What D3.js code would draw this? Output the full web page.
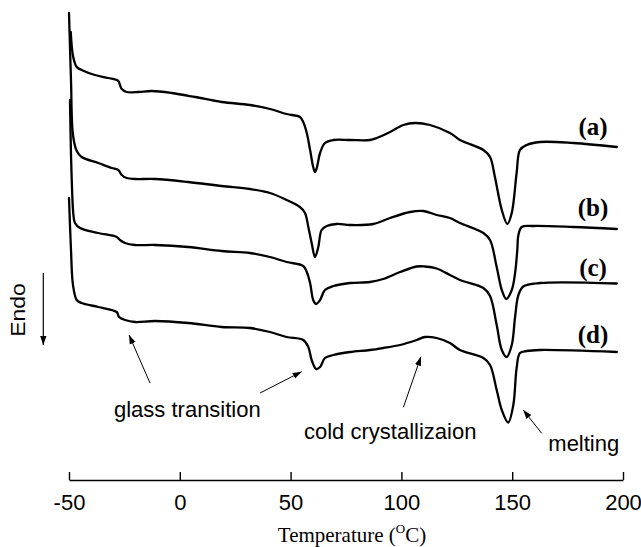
<!DOCTYPE html>
<html>
<head>
<meta charset="utf-8">
<script src="https://cdn.jsdelivr.net/npm/d3@7/dist/d3.min.js"></script>
<style>
  html, body { margin: 0; padding: 0; background: #fff; }
  svg { display: block; }
</style>
</head>
<body>
<svg id="chart" width="641" height="547"></svg>
<script>
// ---- Data (temperature in °C, heat flow in arbitrary units, endo down) ----
const curveA = [[-49.2,44.8],[-48.1,42.3],[-46.5,41.3],[-44.3,41.0],[-38.3,40.5],[-32.3,40.2],[-27.75,39.9],[-27.0,39.5],[-26.2,39.1],[-24.0,38.8],[-18.7,38.8],[-12.7,38.9],[-3.65,38.7],[6.9,38.3],[18.9,37.8],[31.7,37.5],[40.7,37.1],[48.2,36.6],[54.2,36.3],[55.7,35.8],[57.3,34.7],[58.8,33.0],[60.2,31.3],[61.0,30.8],[61.8,31.2],[63.3,32.7],[65.5,33.7],[69.3,34.0],[76.8,34.0],[85.8,34.0],[88.9,34.2],[94.9,34.8],[100.9,35.5],[106.1,35.7],[112.9,35.5],[121.9,34.7],[126.4,34.0],[137.0,33.0],[140.0,32.3],[142.2,30.3],[145.3,27.0],[147.8,25.6],[149.8,26.7],[152.0,30.7],[153.5,33.0],[156.5,33.5],[162.5,33.8],[177.6,33.7],[197.2,33.3]];
const curveB = [[-50.0,46.7],[-49.1,40.0],[-48.2,34.5],[-46.5,32.9],[-44.3,32.3],[-36.8,31.7],[-30.7,31.2],[-27.75,31.0],[-26.2,30.5],[-24.0,30.2],[-20.2,30.1],[-11.2,30.1],[3.8,29.8],[18.9,29.4],[31.7,29.1],[40.7,28.7],[48.2,28.0],[54.2,27.3],[56.5,26.7],[58.0,25.3],[59.5,23.7],[61.0,22.3],[62.5,23.3],[64.0,25.0],[66.3,25.4],[70.8,25.6],[76.8,25.5],[87.3,25.6],[94.9,26.2],[103.9,26.8],[109.9,26.9],[115.9,26.5],[121.9,26.2],[126.4,25.7],[137.0,24.7],[140.0,24.0],[143.0,21.3],[145.3,19.0],[147.3,18.1],[149.8,19.0],[151.3,20.7],[152.3,23.0],[152.8,24.5],[154.3,25.3],[159.5,25.4],[177.6,25.3],[197.2,25.1]];
const curveC = [[-49.55,38.0],[-48.9,31.0],[-48.0,26.5],[-47.3,25.7],[-45.0,25.2],[-36.8,24.7],[-28.5,24.3],[-27.0,24.0],[-24.7,23.7],[-20.2,23.5],[-11.2,23.5],[3.8,23.3],[18.9,22.9],[31.7,22.7],[40.7,22.3],[48.2,21.8],[55.7,21.4],[57.3,20.8],[58.8,19.7],[60.2,18.0],[61.5,17.6],[63.3,18.0],[65.5,19.0],[69.3,19.4],[76.8,19.7],[85.8,19.8],[91.8,20.1],[99.4,20.8],[106.9,21.35],[110.6,21.35],[115.9,21.15],[121.9,20.5],[126.4,20.0],[137.0,19.2],[140.0,18.4],[143.0,15.5],[145.3,13.0],[147.5,12.3],[149.8,13.5],[151.3,16.3],[152.8,18.5],[155.0,19.35],[162.5,19.7],[197.2,19.65]];
const curveD = [[-50.0,28.2],[-49.1,23.0],[-48.2,19.5],[-46.5,18.0],[-44.3,17.7],[-36.8,17.3],[-28.5,16.8],[-27.4,16.3],[-24.7,16.0],[-20.2,15.8],[-11.2,15.9],[3.8,15.7],[18.9,15.3],[31.7,15.2],[40.7,14.8],[48.2,14.3],[55.7,14.0],[58.0,13.3],[59.5,12.0],[61.5,11.1],[63.3,11.3],[65.5,12.2],[69.3,12.5],[76.8,12.8],[85.8,13.0],[91.8,13.2],[99.4,13.5],[106.9,14.0],[110.6,14.3],[115.9,14.2],[121.9,13.7],[126.4,13.0],[137.0,12.2],[140.0,11.5],[143.0,9.0],[145.3,7.0],[148.2,5.75],[150.5,7.5],[152.0,11.2],[153.5,12.7],[156.5,12.9],[162.5,13.0],[197.2,12.8]];

const seriesNames = ["(a)", "(b)", "(c)", "(d)"];
const labelFlow = [34.5, 26.4, 20.4, 13.7];   // label baseline positions (heat-flow units)
const labelTemp = 186.5;

const tickValues = [-50, 0, 50, 100, 150, 200];
const tickLabels = ["-50", "0", "50", "100", "150", "200"];

// annotations: text, text anchor point [T, flow], arrow from [T, flow] to tip [T, flow]
const annoText = ["glass transition", "cold crystallizaion", "melting"];
const annoPos = [[-29.7, 6.35], [56.05, 4.15], [166.3, 2.95]];
const arrows = [
  [[-13.45, 9.7], [-22.9, 14.5]],
  [[36.2, 8.7], [55.0, 10.83]],
  [[100.9, 7.27], [108.8, 12.33]],
  [[163.3, 4.67], [155.0, 7.0]]
];

// ---- Chart ----
const svg = d3.select("#chart");
const x = d3.scaleLinear().domain([-50, 200]).range([69, 623]);
const y = d3.scaleLinear().domain([0, 48]).range([480, 0]);

const defs = svg.append("defs");
defs.append("marker")
  .attr("id", "ah")
  .attr("viewBox", "0 0 10 10")
  .attr("refX", 10).attr("refY", 5)
  .attr("markerWidth", 9).attr("markerHeight", 9)
  .attr("markerUnits", "userSpaceOnUse")
  .attr("orient", "auto")
  .append("path").attr("d", "M0,1.5 L10,5 L0,8.5 Z").attr("fill", "#000");

const line = d3.line().x(d => x(d[0])).y(d => y(d[1])).curve(d3.curveCatmullRom.alpha(0.5));

[curveA, curveB, curveC, curveD].forEach(c => {
  svg.append("path").datum(c)
    .attr("d", line)
    .attr("fill", "none")
    .attr("stroke", "#000")
    .attr("stroke-width", 2.3)
    .attr("stroke-linejoin", "round")
    .attr("stroke-linecap", "round");
});

// series labels
seriesNames.forEach((n, i) => {
  svg.append("text")
    .attr("x", x(labelTemp)).attr("y", y(labelFlow[i]))
    .attr("text-anchor", "middle")
    .attr("font-family", "'Liberation Serif', 'Times New Roman', serif")
    .attr("font-weight", "bold")
    .attr("font-size", 25)
    .text(n);
});

// x axis
const axis = d3.axisBottom(x).tickValues(tickValues)
  .tickFormat((d, i) => tickLabels[i])
  .tickSizeInner(-8).tickSizeOuter(0);
const gx = svg.append("g").attr("transform", `translate(0,${y(0)})`).call(axis);
gx.select(".domain").attr("stroke", "#000").attr("stroke-width", 1.6);
gx.selectAll(".tick line").attr("stroke", "#000").attr("stroke-width", 1.4);
gx.selectAll(".tick text")
  .attr("y", 29.5).attr("dy", 0)
  .attr("fill", "#000")
  .attr("font-family", "'Liberation Sans', Arial, sans-serif")
  .attr("font-size", 22);

// x axis title
const title = svg.append("text")
  .attr("x", 352).attr("y", 541.5)
  .attr("text-anchor", "middle")
  .attr("font-family", "'Liberation Serif', 'Times New Roman', serif")
  .attr("font-size", 21);
title.append("tspan").text("Temperature (");
title.append("tspan").attr("font-size", 13).attr("dy", -9).text("O");
title.append("tspan").attr("dy", 9).text("C)");

// annotations
annoText.forEach((t, i) => {
  svg.append("text")
    .attr("x", x(annoPos[i][0])).attr("y", y(annoPos[i][1]))
    .attr("font-family", "'Liberation Sans', Arial, sans-serif")
    .attr("font-size", 22)
    .text(t);
});
arrows.forEach(a => {
  svg.append("line")
    .attr("x1", x(a[0][0])).attr("y1", y(a[0][1]))
    .attr("x2", x(a[1][0])).attr("y2", y(a[1][1]))
    .attr("stroke", "#000").attr("stroke-width", 1)
    .attr("marker-end", "url(#ah)");
});

// Endo label + arrow
svg.append("text")
  .attr("transform", "translate(25,310) rotate(-90) scale(1,0.9)")
  .attr("text-anchor", "middle")
  .attr("font-family", "'Liberation Sans', Arial, sans-serif")
  .attr("font-size", 23)
  .text("Endo");
svg.append("line")
  .attr("x1", 43.3).attr("y1", 273)
  .attr("x2", 43.3).attr("y2", 345)
  .attr("stroke", "#000").attr("stroke-width", 1.2)
  .attr("marker-end", "url(#ah)");
</script>
</body>
</html>
